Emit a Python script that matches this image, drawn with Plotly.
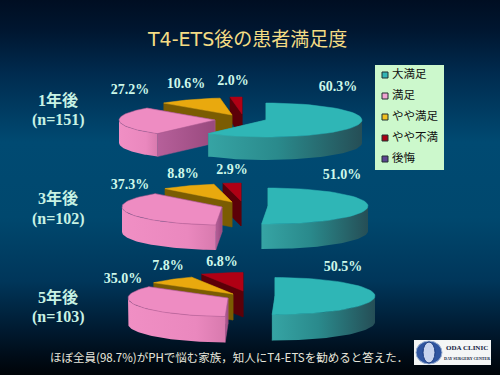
import math
import plotly.graph_objects as go

# ---- data ----
categories = ["大満足", "満足", "やや満足", "やや不満", "後悔"]
values_1y = [60.3, 27.2, 10.6, 2.0]
values_3y = [51.0, 37.3, 8.8, 2.9]
values_5y = [50.5, 35.0, 7.8, 6.8]
pct_1y = ["60.3%", "27.2%", "10.6%", "2.0%"]
pct_3y = ["51.0%", "37.3%", "8.8%", "2.9%"]
pct_5y = ["50.5%", "35.0%", "7.8%", "6.8%"]
row_titles = [["1年後", "(n=151)"], ["3年後", "(n=102)"], ["5年後", "(n=103)"]]
title = "T4-ETS後の患者満足度"
note = "ほぼ全員(98.7%)がPHで悩む家族，知人にT4-ETSを勧めると答えた．"

# ---- layout geometry (pixels of the slide) ----
pies = [
    dict(vals=values_1y, labels=pct_1y, rx=96, ry=17, depth=23,
         centers=[(266, 120), (215, 120), (232, 115), (242, 114)],
         pos=[(338, 87), (130, 90), (186, 84), (233, 81)], row=(58, 100, 120)),
    dict(vals=values_3y, labels=pct_3y, rx=100, ry=18, depth=25,
         centers=[(268, 206), (222, 207), (232, 202), (241, 201)],
         pos=[(342, 175), (130, 185), (183, 174), (232, 170)], row=(58, 198, 219)),
    dict(vals=values_5y, labels=pct_5y, rx=100, ry=18.5, depth=26,
         centers=[(275, 296), (228, 298), (233, 294), (243, 291)],
         pos=[(343, 267), (123, 279), (168, 266), (222, 262)], row=(58, 297, 317)),
]
top_cols = ["#2fb6b6", "#ee8cc2", "#e9a90e", "#b00014"]
cut_cols = ["#2a8f8f", "#a9598e", "#7b5c02", "#5c0008"]
rim_scales = {
    0: [[0, "#36a4a4"], [0.45, "#2a8a8c"], [1, "#254e56"]],
    1: [[0, "#f08fc4"], [0.7, "#ea88be"], [1, "#d87aae"]],
    2: [[0, "#7b5c02"], [1, "#7b5c02"]],
    3: [[0, "#5c0008"], [1, "#5c0008"]],
}
legend_cols = ["#33b5b5", "#f0a4d2", "#f0c020", "#a80012", "#5c4490"]
legend_y = [75, 96, 117, 138, 159]

fig = go.Figure()

def poly(xs, ys, **kw):
    fig.add_trace(go.Scatter(x=xs, y=ys, mode="lines", fill="toself", hoverinfo="skip",
                             showlegend=False, **kw))

# background
poly([0, 500, 500, 0, 0], [0, 0, 375, 375, 0], line=dict(width=0),
     fillgradient=dict(type="vertical", start=0, stop=375, colorscale=[
         [0, "#000e22"], [0.08, "#001630"], [0.2, "#002c50"], [0.38, "#004a72"],
         [0.58, "#00486e"], [0.75, "#00365a"], [0.88, "#001a30"], [0.95, "#000c18"], [1, "#000408"]]))

def arc(c, rx, ry, a0, a1, dy=0, n=48):
    out = [a0 + (a1 - a0) * i / n for i in range(n + 1)]
    return ([c[0] + rx * math.sin(math.radians(a)) for a in out],
            [c[1] - ry * math.cos(math.radians(a)) + dy for a in out])

for p in pies:
    total = sum(p["vals"])
    starts = [0.0]
    for v in p["vals"]:
        starts.append(starts[-1] + 360 * v / total)
    rx, ry, d = p["rx"], p["ry"], p["depth"]
    for i in [3, 2, 1, 0]:  # back to front
        c = p["centers"][i]
        a0, a1 = starts[i], starts[i + 1]
        # cut faces
        for a in (a1, a0):
            ex = c[0] + rx * math.sin(math.radians(a))
            ey = c[1] - ry * math.cos(math.radians(a))
            kw = dict(line=dict(width=0.5, color=cut_cols[i]), fillcolor=cut_cols[i])
            if i == 1 and a == a0:
                kw = dict(line=dict(width=0.5, color=cut_cols[i]), fillgradient=dict(
                    type="horizontal", start=min(ex, c[0]), stop=max(ex, c[0]),
                    colorscale=[[0, "#b6609a"], [1, "#99497e"]]))
            poly([c[0], ex, ex, c[0], c[0]], [c[1], ey, ey + d, c[1] + d, c[1]], **kw)
        # outer rim, front half only
        f0, f1 = max(a0, 90), min(a1, 270)
        if f1 > f0:
            tx, ty = arc(c, rx, ry, f0, f1)
            bx, by = arc(c, rx, ry, f1, f0, d)
            poly(tx + bx + tx[:1], ty + by + ty[:1], line=dict(width=0),
                 fillgradient=dict(type="horizontal", start=min(tx), stop=max(tx),
                                   colorscale=rim_scales[i]))
        # top face
        ax, ay = arc(c, rx, ry, a0, a1)
        poly([c[0]] + ax + [c[0]], [c[1]] + ay + [c[1]],
             line=dict(width=0.5, color=cut_cols[i] if i == 1 else top_cols[i]),
             fillcolor=top_cols[i])

def texts(xs, ys, tx, size, color, family, **kw):
    fig.add_trace(go.Scatter(x=xs, y=ys, text=tx, mode="text", textposition="middle center",
                             hoverinfo="skip", showlegend=False,
                             textfont=dict(size=size, color=color, family=family, weight="bold"), **kw))

SERIF = "Liberation Serif, Noto Sans CJK JP"
for p in pies:
    texts([q[0] for q in p["pos"]], [q[1] for q in p["pos"]], p["labels"],
          14, "#cdf8ea", "Liberation Serif")
for p, rt in zip(pies, row_titles):
    x, y1, y2 = p["row"]
    fig.add_annotation(x=x, y=y1, text="<b>%s</b>" % rt[0], showarrow=False,
                       font=dict(size=16, color="#c8f2e4", family=SERIF))
    fig.add_annotation(x=x, y=y2, text="<b>%s</b>" % rt[1], showarrow=False,
                       font=dict(size=16, color="#c8f2e4", family=SERIF))

fig.add_annotation(x=246.5, y=39, text=title, showarrow=False,
                   font=dict(size=19, color="#f4dc84", family="DejaVu Sans, Noto Sans CJK JP"))
fig.add_annotation(x=229, y=357, text=note, showarrow=False,
                   font=dict(size=11.5, color="#e6e6dc", family="Noto Sans CJK JP"))

# logo
shapes = [dict(type="rect", x0=414, x1=491, y0=340, y1=365, fillcolor="#f4f6f6", line_width=0)]
shapes.append(dict(type="circle", x0=416, x1=442, y0=341, y1=364, fillcolor="#2f55a0",
                   line=dict(color="#9fb4d4", width=1)))
shapes.append(dict(type="circle", x0=423, x1=435, y0=342, y1=363, fillcolor="#c8d4ee",
                   line=dict(color="#1c3c80", width=1)))
fig.update_layout(shapes=shapes)
fig.add_annotation(x=467, y=348, text="<b>ODA CLINIC</b>", showarrow=False,
                   font=dict(size=7, color="#101840", family="Liberation Serif"))
fig.add_annotation(x=467, y=358, text="<b>DAY SURGERY CENTER</b>", showarrow=False,
                   font=dict(size=4, color="#101840", family="Liberation Serif"))

# legend box and entries
poly([375, 444, 444, 375, 375], [65, 65, 170, 170, 65], line=dict(width=0), fillcolor="#ccf8cc")
fig.add_trace(go.Scatter(x=[385] * len(categories), y=legend_y, mode="markers", hoverinfo="skip",
                         showlegend=False, marker=dict(symbol="square", size=6, color=legend_cols,
                                                       line=dict(color="#203030", width=1))))
fig.add_trace(go.Scatter(x=[392] * len(categories), y=legend_y, text=categories, mode="text",
                         textposition="middle right", hoverinfo="skip", showlegend=False,
                         textfont=dict(size=11.5, color="#101010", family="Noto Sans CJK JP")))

fig.update_layout(width=500, height=375, margin=dict(l=0, r=0, t=0, b=0), autosize=False,
                  paper_bgcolor="#001020", plot_bgcolor="#001020",
                  xaxis=dict(range=[0, 500], visible=False, fixedrange=True),
                  yaxis=dict(range=[375, 0], visible=False, fixedrange=True))
fig.write_html("out.html", config=dict(displayModeBar=False),
               post_script="document.body.style.margin='0';document.documentElement.style.overflow='hidden';")
